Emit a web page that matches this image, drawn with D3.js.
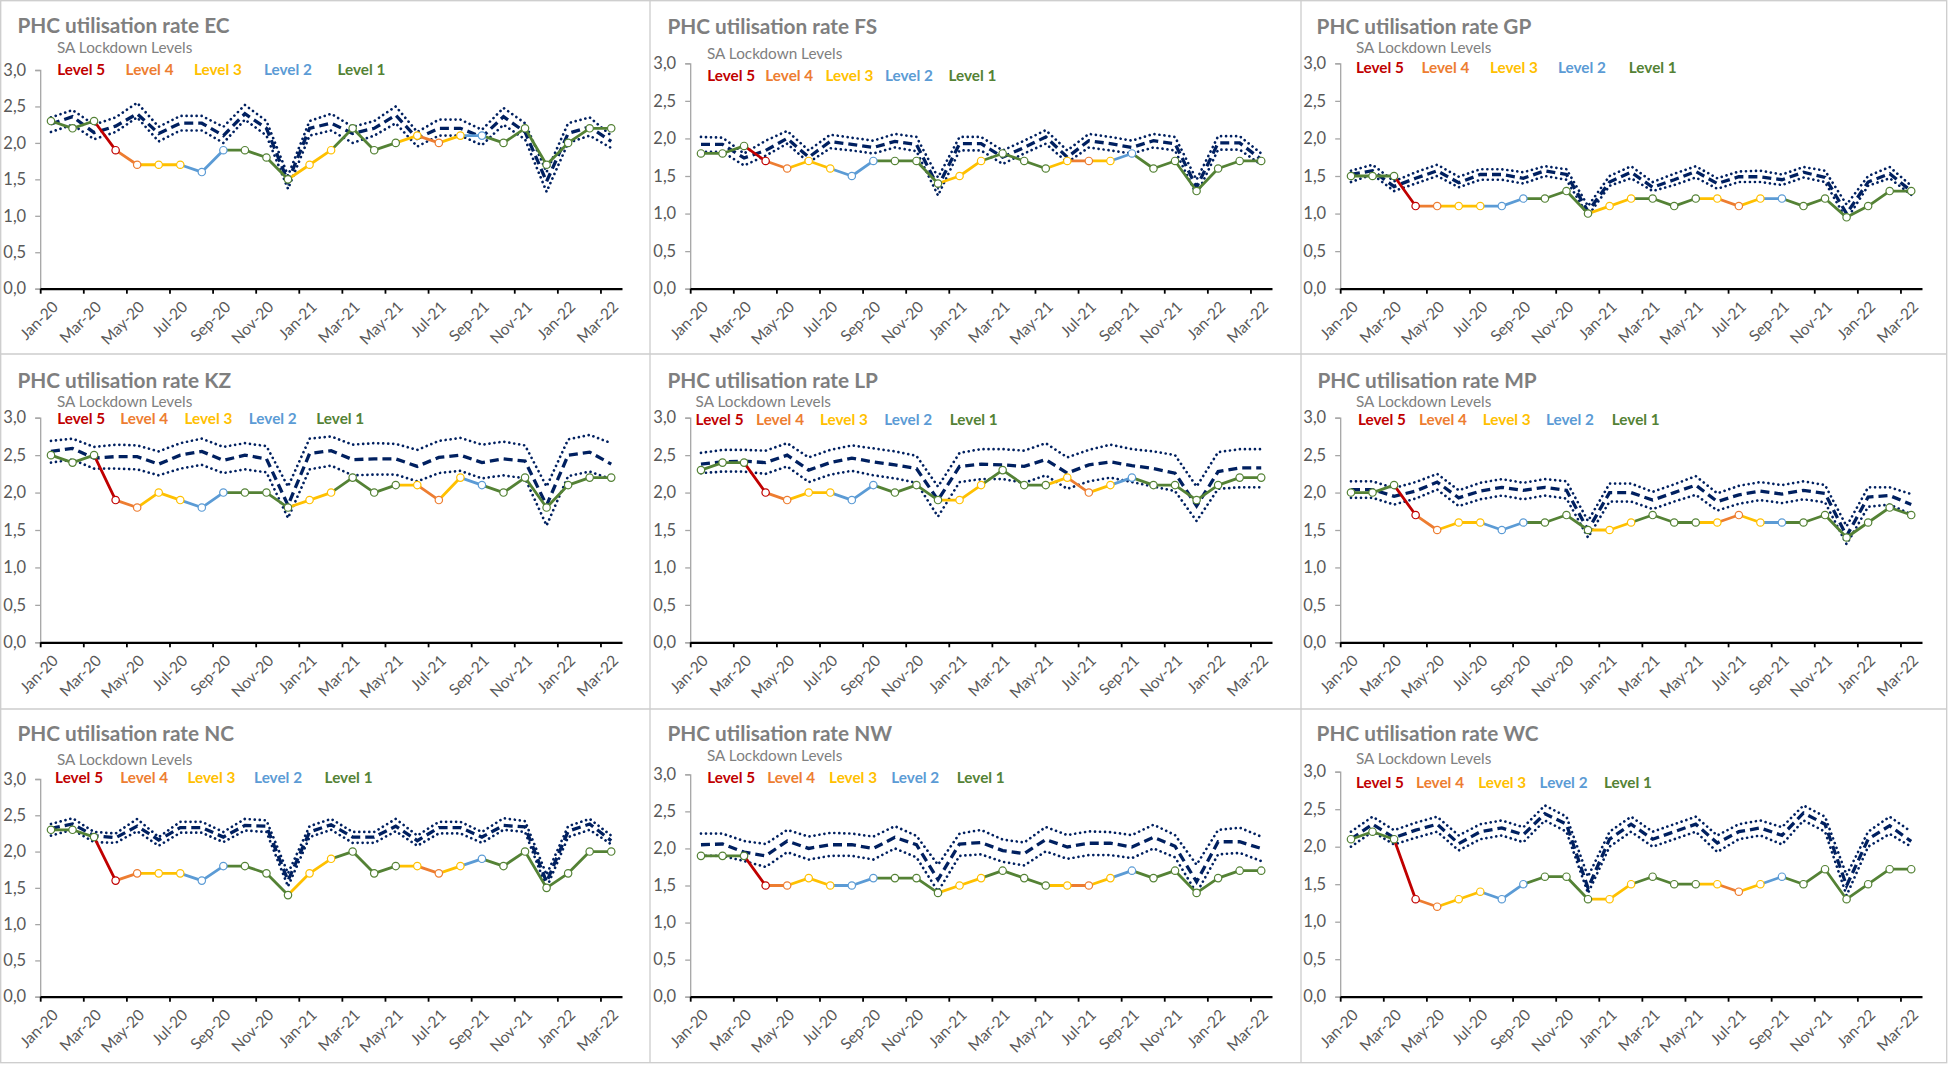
<!DOCTYPE html>
<html><head><meta charset="utf-8">
<script src="https://cdn.jsdelivr.net/npm/d3@7"></script>
<style>body{margin:0;background:#fff;} svg{display:block;}</style>
</head><body><svg id="c" width="1951" height="1065"></svg>
<script>
// ---------- DATA ----------
const months = ["Jan-20","Feb-20","Mar-20","Apr-20","May-20","Jun-20","Jul-20","Aug-20","Sep-20","Oct-20","Nov-20","Dec-20",
  "Jan-21","Feb-21","Mar-21","Apr-21","May-21","Jun-21","Jul-21","Aug-21","Sep-21","Oct-21","Nov-21","Dec-21",
  "Jan-22","Feb-22","Mar-22"];
const lockdownLevel = [1,1,1,5,4,3,3,2,2,1,1,1,3,3,1,1,1,3,4,3,2,1,1,1,1,1,1];
const legendLevels = [5,4,3,2,1];
const yTicks = [0,0.5,1,1.5,2,2.5,3];
const provinces = ["EC","FS","GP","KZ","LP","MP","NC","NW","WC"];

const ecActual = [2.3,2.2,2.3,1.9,1.7,1.7,1.7,1.6,1.9,1.9,1.8,1.5,1.7,1.9,2.2,1.9,2.0,2.1,2.0,2.1,2.1,2.0,2.2,1.7,2.0,2.2,2.2];
const ecMean   = [2.26,2.36,2.14,2.23,2.4,2.13,2.27,2.27,2.1,2.4,2.2,1.47,2.2,2.27,2.13,2.2,2.38,2.06,2.2,2.2,2.08,2.36,2.15,1.47,2.13,2.22,2.02];
const ecUpper  = [2.35,2.45,2.25,2.35,2.55,2.22,2.37,2.37,2.22,2.52,2.3,1.55,2.3,2.4,2.22,2.3,2.5,2.15,2.32,2.32,2.18,2.48,2.27,1.6,2.27,2.35,2.1];
const ecLower  = [2.15,2.25,2.05,2.15,2.35,2.02,2.17,2.17,2.0,2.32,2.1,1.37,2.1,2.17,2.0,2.1,2.27,1.95,2.1,2.1,1.97,2.25,2.05,1.33,2.0,2.1,1.93];

const fsActual = [1.8,1.8,1.9,1.7,1.6,1.7,1.6,1.5,1.7,1.7,1.7,1.4,1.5,1.7,1.8,1.7,1.6,1.7,1.7,1.7,1.8,1.6,1.7,1.3,1.6,1.7,1.7];
const fsMean   = [1.92,1.92,1.74,1.84,2.0,1.75,1.96,1.92,1.88,1.96,1.92,1.36,1.93,1.93,1.75,1.88,2.02,1.75,1.97,1.93,1.88,1.97,1.93,1.35,1.94,1.94,1.72];
const fsUpper  = [2.02,2.01,1.8,1.97,2.1,1.84,2.05,2.01,1.97,2.06,2.02,1.48,2.02,2.02,1.84,1.97,2.11,1.84,2.06,2.02,1.97,2.06,2.02,1.45,2.03,2.03,1.8];
const fsLower  = [1.82,1.82,1.64,1.77,1.93,1.68,1.87,1.84,1.8,1.88,1.83,1.24,1.84,1.84,1.66,1.8,1.93,1.68,1.88,1.84,1.8,1.88,1.84,1.25,1.85,1.85,1.65];

const gpActual = [1.5,1.5,1.5,1.1,1.1,1.1,1.1,1.1,1.2,1.2,1.3,1.0,1.1,1.2,1.2,1.1,1.2,1.2,1.1,1.2,1.2,1.1,1.2,0.95,1.1,1.3,1.3];
const gpMean   = [1.52,1.57,1.36,1.47,1.57,1.41,1.52,1.52,1.47,1.57,1.52,1.03,1.42,1.55,1.35,1.45,1.56,1.4,1.49,1.49,1.45,1.55,1.48,1.0,1.42,1.53,1.3];
const gpUpper  = [1.57,1.65,1.43,1.55,1.65,1.49,1.59,1.59,1.55,1.63,1.59,1.1,1.5,1.63,1.42,1.53,1.63,1.47,1.56,1.57,1.52,1.62,1.57,1.12,1.5,1.62,1.37];
const gpLower  = [1.42,1.52,1.3,1.4,1.5,1.35,1.45,1.45,1.4,1.5,1.45,0.97,1.37,1.47,1.3,1.38,1.48,1.33,1.42,1.42,1.38,1.48,1.42,0.92,1.37,1.47,1.25];

const kzActual = [2.5,2.4,2.5,1.9,1.8,2.0,1.9,1.8,2.0,2.0,2.0,1.8,1.9,2.0,2.2,2.0,2.1,2.1,1.9,2.2,2.1,2.0,2.2,1.8,2.1,2.2,2.2];
const kzMean   = [2.55,2.59,2.46,2.48,2.48,2.38,2.5,2.55,2.43,2.5,2.45,1.83,2.52,2.56,2.44,2.45,2.45,2.35,2.47,2.5,2.4,2.45,2.42,1.83,2.5,2.54,2.38];
const kzUpper  = [2.69,2.72,2.61,2.64,2.63,2.55,2.66,2.72,2.61,2.66,2.62,2.08,2.72,2.75,2.64,2.66,2.65,2.57,2.69,2.73,2.64,2.68,2.63,2.08,2.71,2.77,2.66];
const kzLower  = [2.4,2.44,2.32,2.32,2.31,2.23,2.32,2.37,2.26,2.31,2.27,1.66,2.31,2.36,2.23,2.24,2.24,2.15,2.26,2.29,2.19,2.23,2.19,1.56,2.22,2.28,2.18];

const lpActual = [2.3,2.4,2.4,2.0,1.9,2.0,2.0,1.9,2.1,2.0,2.1,1.9,1.9,2.1,2.3,2.1,2.1,2.2,2.0,2.1,2.2,2.1,2.1,1.9,2.1,2.2,2.2];
const lpMean   = [2.38,2.41,2.42,2.4,2.5,2.3,2.4,2.46,2.41,2.37,2.32,1.9,2.35,2.38,2.37,2.35,2.44,2.26,2.37,2.41,2.36,2.32,2.26,1.82,2.28,2.33,2.33];
const lpUpper  = [2.53,2.57,2.57,2.56,2.66,2.47,2.57,2.63,2.59,2.55,2.49,2.08,2.53,2.58,2.58,2.56,2.66,2.47,2.57,2.64,2.58,2.55,2.5,2.08,2.54,2.58,2.58];
const lpLower  = [2.26,2.28,2.28,2.25,2.35,2.14,2.24,2.29,2.23,2.19,2.13,1.68,2.14,2.18,2.18,2.13,2.23,2.05,2.15,2.2,2.14,2.08,2.02,1.62,2.05,2.07,2.07];

const mpActual = [2.0,2.0,2.1,1.7,1.5,1.6,1.6,1.5,1.6,1.6,1.7,1.5,1.5,1.6,1.7,1.6,1.6,1.6,1.7,1.6,1.6,1.6,1.7,1.4,1.6,1.8,1.7];
const mpMean   = [2.04,2.04,1.95,2.02,2.14,1.93,2.02,2.07,2.03,2.07,2.03,1.5,2.0,2.0,1.9,2.0,2.1,1.88,1.97,2.02,1.98,2.03,1.99,1.42,1.94,1.96,1.84];
const mpUpper  = [2.15,2.15,2.06,2.14,2.25,2.03,2.13,2.18,2.13,2.18,2.15,1.62,2.12,2.12,2.01,2.11,2.22,1.99,2.09,2.14,2.1,2.15,2.1,1.55,2.07,2.07,1.98];
const mpLower  = [1.93,1.93,1.84,1.92,2.04,1.82,1.91,1.96,1.91,1.96,1.92,1.4,1.88,1.88,1.78,1.88,1.97,1.76,1.85,1.9,1.86,1.91,1.87,1.31,1.81,1.84,1.71];

const ncActual = [2.3,2.3,2.2,1.6,1.7,1.7,1.7,1.6,1.8,1.8,1.7,1.4,1.7,1.9,2.0,1.7,1.8,1.8,1.7,1.8,1.9,1.8,2.0,1.5,1.7,2.0,2.0];
const ncMean   = [2.32,2.38,2.22,2.19,2.35,2.16,2.33,2.33,2.2,2.36,2.35,1.6,2.27,2.37,2.2,2.2,2.35,2.15,2.33,2.33,2.2,2.36,2.34,1.58,2.28,2.38,2.15];
const ncUpper  = [2.38,2.46,2.27,2.25,2.45,2.2,2.41,2.41,2.27,2.45,2.43,1.7,2.35,2.45,2.27,2.27,2.45,2.22,2.41,2.41,2.27,2.46,2.42,1.68,2.35,2.45,2.22];
const ncLower  = [2.22,2.3,2.13,2.12,2.28,2.08,2.26,2.26,2.13,2.29,2.27,1.52,2.2,2.3,2.12,2.12,2.28,2.08,2.25,2.25,2.12,2.3,2.27,1.5,2.2,2.3,2.1];

const nwActual = [1.9,1.9,1.9,1.5,1.5,1.6,1.5,1.5,1.6,1.6,1.6,1.4,1.5,1.6,1.7,1.6,1.5,1.5,1.5,1.6,1.7,1.6,1.7,1.4,1.6,1.7,1.7];
const nwMean   = [2.05,2.06,1.95,1.9,2.1,2.0,2.05,2.05,2.0,2.15,2.05,1.58,2.06,2.08,1.97,1.93,2.12,2.02,2.07,2.07,2.02,2.15,2.03,1.55,2.09,2.09,2.0];
const nwUpper  = [2.2,2.2,2.1,2.06,2.25,2.16,2.21,2.2,2.16,2.3,2.17,1.78,2.2,2.25,2.12,2.08,2.29,2.18,2.23,2.22,2.18,2.32,2.18,1.78,2.25,2.28,2.16];
const nwLower  = [1.9,1.9,1.83,1.75,1.95,1.85,1.9,1.9,1.85,2.0,1.88,1.42,1.9,1.92,1.82,1.77,1.96,1.86,1.91,1.91,1.87,2.0,1.88,1.4,1.92,1.94,1.83];

const wcActual = [2.1,2.2,2.1,1.3,1.2,1.3,1.4,1.3,1.5,1.6,1.6,1.3,1.3,1.5,1.6,1.5,1.5,1.5,1.4,1.5,1.6,1.5,1.7,1.3,1.5,1.7,1.7];
const wcMean   = [2.1,2.3,2.12,2.22,2.3,2.04,2.2,2.25,2.16,2.44,2.3,1.45,2.1,2.3,2.1,2.2,2.3,2.05,2.2,2.25,2.15,2.45,2.3,1.48,2.1,2.28,2.07];
const wcUpper  = [2.2,2.4,2.22,2.32,2.4,2.15,2.3,2.35,2.26,2.55,2.4,1.6,2.2,2.4,2.2,2.3,2.4,2.15,2.3,2.35,2.26,2.55,2.4,1.62,2.2,2.4,2.2];
const wcLower  = [2.0,2.2,2.03,2.12,2.2,1.95,2.1,2.15,2.06,2.35,2.2,1.38,2.0,2.2,2.0,2.1,2.2,1.93,2.1,2.15,2.03,2.35,2.2,1.35,2.0,2.17,2.0];

const seriesByProvince = {
  EC:[ecActual,ecMean,ecUpper,ecLower], FS:[fsActual,fsMean,fsUpper,fsLower], GP:[gpActual,gpMean,gpUpper,gpLower],
  KZ:[kzActual,kzMean,kzUpper,kzLower], LP:[lpActual,lpMean,lpUpper,lpLower], MP:[mpActual,mpMean,mpUpper,mpLower],
  NC:[ncActual,ncMean,ncUpper,ncLower], NW:[nwActual,nwMean,nwUpper,nwLower], WC:[wcActual,wcMean,wcUpper,wcLower]
};

// ---------- LAYOUT / STYLE ----------
const levelColor = {5:"#C00000",4:"#ED7D31",3:"#FFC000",2:"#5B9BD5",1:"#548235"};
const navy = "#002060";
const colX = [0,650,1300], rowY = [0,355,710];
const layout = {
  EC:{c:0,r:0,top:70,  bottom:288.7,tY:24,  tX:17.4,sX:57,  sY:47,lY:69,lX:[57.2,125.6,194,264,337.5]},
  FS:{c:1,r:0,top:63.3,bottom:288.7,tY:25,  tX:17.4,sX:57,  sY:53,lY:75,lX:[57.2,115.3,175.4,235,298.5]},
  GP:{c:2,r:0,top:63.3,bottom:288.7,tY:25,  tX:16.6,sX:56,  sY:47,lY:67,lX:[56,121.5,190,258,328.8]},
  KZ:{c:0,r:1,top:62.7,bottom:287.3,tY:24,  tX:17.4,sX:57,  sY:46,lY:63,lX:[57.2,120.2,184.5,248.8,316.3]},
  LP:{c:1,r:1,top:62.7,bottom:287.3,tY:24,  tX:17.4,sX:45.6,sY:46,lY:64,lX:[45.6,106.1,170,234.2,299.8]},
  MP:{c:2,r:1,top:62.7,bottom:287.3,tY:24,  tX:17.4,sX:56,  sY:46,lY:64,lX:[58,119,182.8,245.9,311.8]},
  NC:{c:0,r:2,top:69,  bottom:286.7,tY:22.7,tX:17.4,sX:57,  sY:49,lY:67,lX:[55.1,120.2,187.4,254.1,324.6]},
  NW:{c:1,r:2,top:64.3,bottom:286.7,tY:22.7,tX:17.4,sX:57,  sY:45,lY:67,lX:[57.2,117.3,179.1,241.3,306.8]},
  WC:{c:2,r:2,top:61.7,bottom:286.7,tY:22.7,tX:16.6,sX:56,  sY:48,lY:72,lX:[56,116.1,178.3,239.6,303.9]}
};
const FONT = "Lato, 'Open Sans', sans-serif";

const svg = d3.select("#c");
svg.append("rect").attr("width",1951).attr("height",1065).attr("fill","#fff");

provinces.forEach(p => {
  const L = layout[p];
  const [actual, mean, upper, lower] = seriesByProvince[p];
  const g = svg.append("g").attr("transform",`translate(${colX[L.c]},${rowY[L.r]})`);
  const x = d3.scaleLinear().domain([0, months.length]).range([40.2, 622]);
  const y = d3.scaleLinear().domain([0, 3]).range([L.bottom, L.top]);
  const cx = i => x(i + 0.5);

  // title + legend
  g.append("text").attr("x",L.tX).attr("y",L.tY).attr("dominant-baseline","central")
    .attr("font-family",FONT).attr("font-weight","bold").attr("font-size",20.8).attr("fill","#7f7f7f")
    .text(`PHC utilisation rate ${p}`);
  g.append("text").attr("x",L.sX).attr("y",L.sY).attr("dominant-baseline","central")
    .attr("font-family",FONT).attr("font-size",15.3).attr("fill","#808080").text("SA Lockdown Levels");
  legendLevels.forEach((lv,k) => {
    g.append("text").attr("x",L.lX[k]).attr("y",L.lY).attr("dominant-baseline","central")
      .attr("font-family",FONT).attr("font-weight","bold").attr("font-size",15.3)
      .attr("fill",levelColor[lv]).text(`Level ${lv}`);
  });

  // y axis
  const ya = g.append("g").attr("transform",`translate(${x(0)},0)`)
    .call(d3.axisLeft(y).tickValues(yTicks).tickSize(5).tickPadding(9)
      .tickFormat(v => d3.format(".1f")(v).replace(".",",")));
  ya.select(".domain").attr("stroke","#a6a6a6").attr("stroke-width",1.3);
  ya.selectAll(".tick line").attr("stroke","#a6a6a6").attr("stroke-width",1.3);
  ya.selectAll(".tick text").attr("font-family",FONT).attr("font-size",16.5).attr("fill","#595959");

  // series lines
  const line = d3.line().x((d,i)=>cx(i)).y(d=>y(d));
  [upper, lower].forEach(s => {
    g.append("path").attr("d",line(s)).attr("fill","none").attr("stroke",navy)
      .attr("stroke-width",2.7).attr("stroke-linecap","round").attr("stroke-dasharray","0.01 5");
  });
  g.append("path").attr("d",line(mean)).attr("fill","none").attr("stroke",navy)
    .attr("stroke-width",3.3).attr("stroke-dasharray","9 5");

  // x axis
  const xa = g.append("g").attr("transform",`translate(0,${L.bottom})`)
    .call(d3.axisBottom(x).tickValues(d3.range(0, months.length, 2)).tickSize(5).tickSizeOuter(0).tickFormat(""));
  xa.select(".domain").attr("stroke","#000").attr("stroke-width",2.2);
  xa.selectAll(".tick line").attr("stroke","#000").attr("stroke-width",1.8);
  g.append("g").selectAll("text").data(months.filter((m,i)=>i%2===0)).join("text")
    .attr("transform",(d,k)=>`translate(${cx(k*2)+4},${L.bottom+15}) rotate(-45)`)
    .attr("text-anchor","end").attr("dominant-baseline","central")
    .attr("font-family",FONT).attr("font-size",15.5).attr("fill","#595959").text(d=>d);

  // actual series: segments coloured by lockdown level
  for (let i = 1; i < actual.length; i++) {
    g.append("line").attr("x1",cx(i-1)).attr("y1",y(actual[i-1])).attr("x2",cx(i)).attr("y2",y(actual[i]))
      .attr("stroke",levelColor[lockdownLevel[i]]).attr("stroke-width",2.8).attr("stroke-linecap","round");
  }
  g.append("g").selectAll("circle").data(actual).join("circle")
    .attr("cx",(d,i)=>cx(i)).attr("cy",d=>y(d)).attr("r",3.7)
    .attr("fill","#fff").attr("stroke",(d,i)=>levelColor[lockdownLevel[i]]).attr("stroke-width",1.2);
});

// panel frames
const frame = svg.append("g").attr("stroke","#cccccc").attr("stroke-width",1.3).attr("fill","none");
frame.append("rect").attr("x",0.7).attr("y",0.7).attr("width",1946).attr("height",1062);
[650,1301].forEach(v=>frame.append("line").attr("x1",v).attr("x2",v).attr("y1",0).attr("y2",1063));
[354,709].forEach(v=>frame.append("line").attr("y1",v).attr("y2",v).attr("x1",0).attr("x2",1947));
</script>
</body></html>
